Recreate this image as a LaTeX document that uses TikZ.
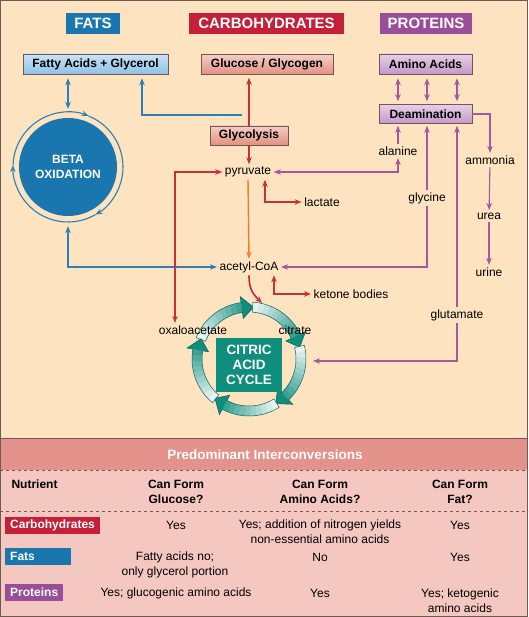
\documentclass[tikz,border=0pt]{standalone}
\usepackage{fontspec}
\setmainfont{Liberation Sans}
\usetikzlibrary{arrows.meta}

\definecolor{peach}{HTML}{FDE3BF}
\definecolor{tabPink}{HTML}{F4C7C1}
\definecolor{bandRed}{HTML}{E3928C}
\definecolor{fatBlue}{HTML}{1A76AE}
\definecolor{carbRed}{HTML}{C42039}
\definecolor{protPur}{HTML}{9A4D98}
\definecolor{cycTeal}{HTML}{0F8E7E}
\definecolor{linBlue}{HTML}{2B80B3}
\definecolor{linRed}{HTML}{C7303A}
\definecolor{linPur}{HTML}{A4589E}
\definecolor{linOrange}{HTML}{EC7F2D}
\definecolor{boxBlue}{HTML}{8DC1E6}
\definecolor{boxRed}{HTML}{E4907F}
\definecolor{boxPur}{HTML}{C796CB}
\definecolor{frameGray}{HTML}{6E5A52}

\def \lineWidth {1.1pt}
\def \ringRad {52}

\tikzset{
  headBox/.style={fill=#1, text=white, font=\fontsize{15}{17}\selectfont\bfseries,
    minimum height=21pt, inner sep=0pt},
  foodBox/.style={draw=frameGray, line width=0.6pt, top color=#1!45!white, bottom color=#1,
    font=\fontsize{12}{14}\selectfont\bfseries, minimum height=20pt, inner sep=0pt},
  metab/.style={inner sep=2.5pt},
  blueLine/.style={linBlue, line width=\lineWidth},
  redLine/.style={linRed, line width=\lineWidth},
  purLine/.style={linPur, line width=\lineWidth},
  orLine/.style={linOrange, line width=1.4pt},
  rowLabel/.style={fill=#1, text=white, font=\fontsize{12}{14}\selectfont\bfseries,
    anchor=west, minimum height=17pt, inner xsep=5pt, inner ysep=0pt},
  colHead/.style={font=\fontsize{12}{15}\selectfont\bfseries, align=center},
  cell/.style={align=center}
}

\begin{document}
\begin{tikzpicture}[x=1pt, y=-1pt, font=\fontsize{12}{15}\selectfont,
    >={Stealth[length=7pt, width=5.5pt]}]
         \useasboundingbox (0,0) rectangle (528,617);
         \fill[peach] (0,0) rectangle (528,438);
         \fill[tabPink] (0,438) rectangle (528,617);
         \fill[bandRed] (0,439) rectangle (528,470);
         \draw[frameGray, line width=1pt] (0,438.5) -- (528,438.5);
         \draw[frameGray, line width=1pt] (0.5,0.5) rectangle (527.5,616.5);

         % headers and source boxes
         \node[headBox=fatBlue, minimum width=54pt] (fatsHead) at (93,23.5) {FATS};
         \node[headBox=carbRed, minimum width=155pt] (carbHead) at (266.5,23.5) {CARBOHYDRATES};
         \node[headBox=protPur, minimum width=92pt] (protHead) at (426,23.5) {PROTEINS};

         \node[foodBox=boxBlue, minimum width=145pt] (fatty) at (95.5,64) {Fatty Acids + Glycerol};
         \node[foodBox=boxRed, minimum width=132pt] (glucose) at (267,64.5) {Glucose / Glycogen};
         \node[foodBox=boxPur, minimum width=93pt] (amino) at (425.5,64) {Amino Acids};
         \node[foodBox=boxPur, minimum width=93pt, minimum height=19pt] (deam) at (425.5,114) {Deamination};
         \node[foodBox=boxRed, minimum width=78pt, minimum height=19pt] (glyco) at (249,135.5) {Glycolysis};

         \node[circle, fill=fatBlue, minimum size=98pt, inner sep=0pt, text=white, align=center,
               font=\fontsize{12}{15}\selectfont\bfseries] (beta) at (68,167) {BETA\\OXIDATION};

         \coordinate (cyc) at (249,359);

         % citric acid cycle ring
         \foreach \h in {-90,-18,54,126,198} {
            \pgfmathsetmacro\s{\h-68}
            \pgfmathsetmacro\b{\h-8}
            \pgfmathsetmacro\t{\h+5}
            \foreach \k in {0,...,9} {
               \pgfmathsetmacro\a{\s+6*\k}
               \pgfmathtruncatemacro\c{10+8*\k}
               \draw[cycTeal!\c!white, line width=10pt] ([shift={(\a:\ringRad)}]cyc)
                  arc[start angle=\a, delta angle=6.4, radius=\ringRad];
            }
            \fill[cycTeal] ([shift={(\b:41)}]cyc) -- ([shift={(\t:\ringRad)}]cyc) -- ([shift={(\b:63)}]cyc) -- cycle;
            \draw[cycTeal!70!black, line width=0.5pt] ([shift={(\s:57)}]cyc)
               arc[start angle=\s, end angle=\b, radius=57] -- ([shift={(\b:63)}]cyc)
               -- ([shift={(\t:\ringRad)}]cyc) -- ([shift={(\b:41)}]cyc) -- ([shift={(\b:47)}]cyc)
               arc[start angle=\b, end angle=\s, radius=47] -- cycle;
         }
         \node[fill=cycTeal, text=white, minimum width=66pt, minimum height=54pt, inner sep=0pt,
               align=center, font=\fontsize{13.5}{15}\selectfont\bfseries] (cac) at (249,365) {CITRIC\\ACID\\CYCLE};

         % intermediates
         \node[metab] (pyr) at (248,172) {pyruvate};
         \node[metab] (acoa) at (249,267) {acetyl-CoA};
         \node[metab] (lact) at (322,202) {lactate};
         \node[metab] (keto) at (351,294) {ketone bodies};
         \node[metab] (oxa) at (193,330) {oxaloacetate};
         \node[metab] (cit) at (295,330) {citrate};
         \node[metab] (ala) at (398,151) {alanine};
         \node[metab] (gly) at (427,198) {glycine};
         \node[metab] (glu) at (457,315) {glutamate};
         \node[metab] (amm) at (490,160) {ammonia};
         \node[metab] (urea) at (489,216) {urea};
         \node[metab] (urine) at (489,272) {urine};

         \coordinate (glyIn) at (242,115);
         \coordinate (pyrBend) at (175,172);
         \coordinate (lacBend) at (265,202);
         \coordinate (ketBend) at (274,294);
         \coordinate (cycIn) at (262,303);
         \coordinate (cycSide) at (313,361);

         % beta oxidation ring
         \draw[blueLine,->] (beta) ++(182:55) arc[start angle=182, end angle=292, radius=55];
         \draw[blueLine,->] (beta) ++(292:55) arc[start angle=292, end angle=420, radius=55];
         \draw[blueLine,->] (beta) ++(420:55) arc[start angle=420, end angle=542, radius=55];

         % fats
         \draw[blueLine,<->, shorten <=4pt, shorten >=9pt] (beta.north |- fatty.south) -- (beta.north);
         \draw[blueLine,<->, shorten <=10pt] (beta.south) |- (acoa.west);
         \draw[blueLine,<-, shorten <=4pt] ([xshift=46.5pt]fatty.south) |- (glyIn);

         % carbohydrates
         \draw[redLine,->, shorten >=3pt] (glyco.north) -- (glyco.north |- glucose.south);
         \draw[redLine,->] (glyco.south) -- (glyco.south |- pyr.north);
         \draw[orLine,->] (pyr.south) -- (acoa.north);
         \draw[redLine,<->] (pyr.west) -- (pyrBend) -- (pyrBend |- oxa.north);
         \draw[redLine,<->] (lacBend |- pyr.south) -- (lacBend) -- (lact.west);
         \draw[redLine,<->] (ketBend |- acoa.south) -- (ketBend) -- (keto.west);
         \draw[redLine, line width=1.7pt, ->] (acoa.south) .. controls +(0,14) and +(-9,-9) .. (cycIn);

         % proteins
         \foreach \dx in {-27.5,1.5,31.5}
            \draw[purLine,<->, shorten <=4pt, shorten >=3pt] ([xshift=\dx pt]amino.south) -- ([xshift=\dx pt]deam.north);
         \draw[purLine,->, shorten >=2pt] (ala.north) -- (ala.north |- deam.south);
         \draw[purLine,->, shorten >=2pt] (gly.north) -- (gly.north |- deam.south);
         \draw[purLine,->, shorten >=2pt] (glu.north) -- (glu.north |- deam.south);
         \draw[purLine,<->] (ala.south) |- (pyr.east);
         \draw[purLine,->] (gly.south) |- (acoa.east);
         \draw[purLine,->] (glu.south) |- (cycSide);
         \draw[purLine,->] (deam.east) -| (amm.north);
         \draw[purLine,->] (amm) -- (urea);
         \draw[purLine,->] (urea) -- (urine);

         % table
         \node[text=white, font=\fontsize{13.5}{15}\selectfont\bfseries] (title) at (265,455) {Predominant Interconversions};
         \draw[frameGray, dashed, line width=0.6pt] (0,470.5) -- (528,470.5);
         \draw[frameGray, dashed, line width=0.6pt] (0,511.5) -- (528,511.5);

         \node[colHead, anchor=west] (hNut) at (8,484) {Nutrient};
         \node[colHead] (hGlu) at (176,491.5) {Can Form\\Glucose?};
         \node[colHead] (hAmi) at (320,491.5) {Can Form\\Amino Acids?};
         \node[colHead] (hFat) at (460,491.5) {Can Form\\Fat?};

         \node[rowLabel=carbRed] (rCarb) at (5,525.5) {Carbohydrates};
         \node[rowLabel=fatBlue, text width=56pt] (rFats) at (5,556.5) {Fats};
         \node[rowLabel=protPur] (rProt) at (5,592) {Proteins};

         \node[cell] (c11) at (176,525) {Yes};
         \node[cell] (c12) at (320,531.5) {Yes; addition of nitrogen yields\\non-essential amino acids};
         \node[cell] (c13) at (460,525) {Yes};
         \node[cell] (c21) at (175,564.5) {Fatty acids no;\\only glycerol portion};
         \node[cell] (c22) at (320,557) {No};
         \node[cell] (c23) at (460,557) {Yes};
         \node[cell] (c31) at (176,593) {Yes; glucogenic amino acids};
         \node[cell] (c32) at (320,593) {Yes};
         \node[cell] (c33) at (460,600.5) {Yes; ketogenic\\amino acids};
      \end{tikzpicture}
\end{document}
